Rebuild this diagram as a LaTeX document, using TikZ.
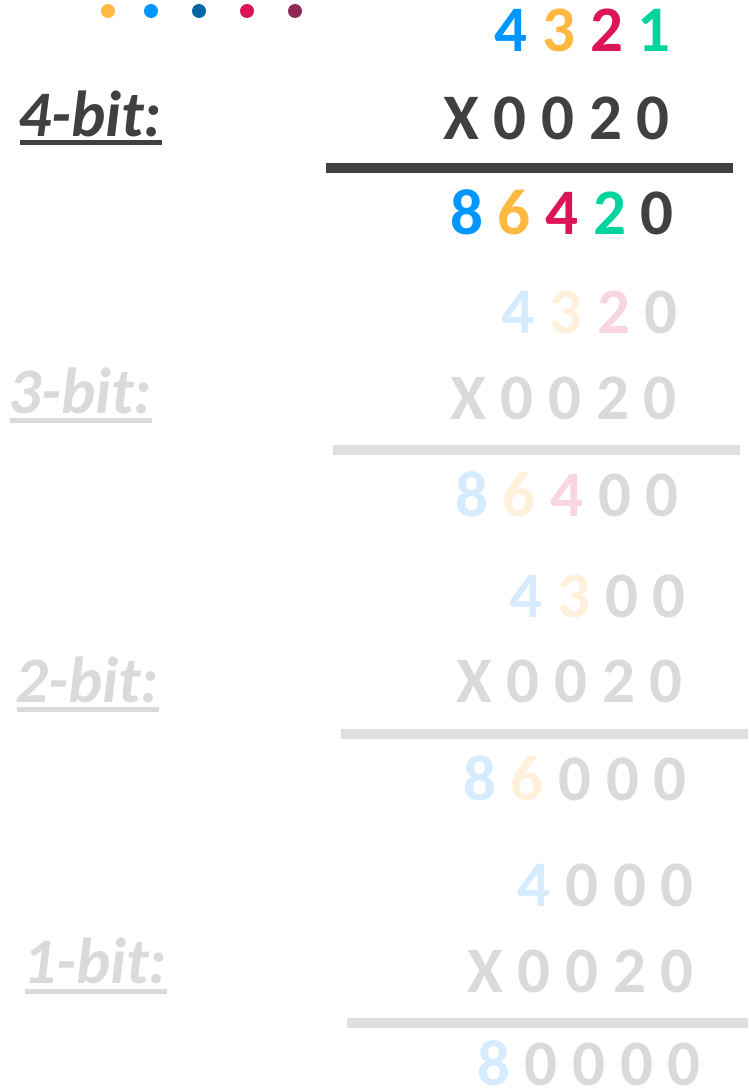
\documentclass[tikz,border=0pt]{standalone}
\usepackage{fontspec}
\setmainfont{Carlito}
\usetikzlibrary{positioning, calc}

% bright digit colours
\definecolor{dgray}{HTML}{404040}
\definecolor{cblue}{HTML}{0096FF}
\definecolor{corange}{HTML}{FFB940}
\definecolor{ccrimson}{HTML}{DC1458}
\definecolor{cgreen}{HTML}{02D49E}
\definecolor{cnavy}{HTML}{0067A6}
\definecolor{cmaroon}{HTML}{8E2A55}
% faded colours
\definecolor{fblue}{HTML}{D7EBFF}
\definecolor{forange}{HTML}{FFF1DC}
\definecolor{fpink}{HTML}{F8D6E1}
\definecolor{fgray}{HTML}{DADADA}
\definecolor{frule}{HTML}{DFDFDF}

\begin{document}
\begin{tikzpicture}[
    x=1pt, y=-1pt, % pixel-like units, y pointing down
    digits/.style={font=\fontsize{65}{78}\selectfont\bfseries, inner sep=0pt, anchor=base east}, % number rows
    bitlabel/.style={font=\fontsize{65}{78}\selectfont\bfseries\itshape, inner sep=0pt, anchor=base west}, % n-bit labels
    sumrule/.style={line width=10pt}, % line under the factors
    ul/.style={line width=5pt}, % underline of a label
    dot/.style={circle, inner sep=0pt, minimum size=14pt} % colour dots
]

    \useasboundingbox (0,0) rectangle (748,1091);

    % Colour dots
    \node[dot, fill=corange] (dot1) at (108,11) {};
    \node[dot, fill=cblue] (dot2) at (151,11) {};
    \node[dot, fill=cnavy] (dot3) at (199,11) {};
    \node[dot, fill=ccrimson] (dot4) at (247,11) {};
    \node[dot, fill=cmaroon] (dot5) at (295,11) {};

    % 4-bit
    \node[bitlabel, text=dgray] (lab4) at (18,137) {4-bit:};
    \draw[ul, dgray] ($(lab4.base west)+(2,6)$) -- ($(lab4.base east)+(0,6)$);
    \node[digits] (top4) at (671,52) {\textcolor{cblue}{4} \textcolor{corange}{3} \textcolor{ccrimson}{2} \textcolor{cgreen}{1}};
    \node[digits, text=dgray] (fac4) at (670,140) {X 0 0 2 0};
    \coordinate (r4a) at (326,168);
    \coordinate (r4b) at (733,168);
    \draw[sumrule, dgray] (r4a) -- (r4b);
    \node[digits] (res4) at (674,234) {\textcolor{cblue}{8} \textcolor{corange}{6} \textcolor{ccrimson}{4} \textcolor{cgreen}{2} \textcolor{dgray}{0}};

    % 3-bit
    \node[bitlabel, text=fgray] (lab3) at (8,413) {3-bit:};
    \draw[ul, fgray] ($(lab3.base west)+(2,7)$) -- ($(lab3.base east)+(0,7)$);
    \node[digits] (top3) at (678,333) {\textcolor{fblue}{4} \textcolor{forange}{3} \textcolor{fpink}{2} \textcolor{fgray}{0}};
    \node[digits, text=fgray] (fac3) at (677,419) {X 0 0 2 0};
    \coordinate (r3a) at (333,450);
    \coordinate (r3b) at (740,450);
    \draw[sumrule, frule] (r3a) -- (r3b);
    \node[digits] (res3) at (679,516) {\textcolor{fblue}{8} \textcolor{forange}{6} \textcolor{fpink}{4} \textcolor{fgray}{0 0}};

    % 2-bit
    \node[bitlabel, text=fgray] (lab2) at (15,702) {2-bit:};
    \draw[ul, fgray] ($(lab2.base west)+(2,7)$) -- ($(lab2.base east)+(0,7)$);
    \node[digits] (top2) at (686,617) {\textcolor{fblue}{4} \textcolor{forange}{3} \textcolor{fgray}{0 0}};
    \node[digits, text=fgray] (fac2) at (683,702) {X 0 0 2 0};
    \coordinate (r2a) at (341,734);
    \coordinate (r2b) at (748,734);
    \draw[sumrule, frule] (r2a) -- (r2b);
    \node[digits] (res2) at (687,800) {\textcolor{fblue}{8} \textcolor{forange}{6} \textcolor{fgray}{0 0 0}};

    % 1-bit
    \node[bitlabel, text=fgray] (lab1) at (23,983) {1-bit:};
    \draw[ul, fgray] ($(lab1.base west)+(2,8)$) -- ($(lab1.base east)+(0,8)$);
    \node[digits] (top1) at (694,906) {\textcolor{fblue}{4} \textcolor{fgray}{0 0 0}};
    \node[digits, text=fgray] (fac1) at (694,992) {X 0 0 2 0};
    \coordinate (r1a) at (347,1023);
    \coordinate (r1b) at (748,1023);
    \draw[sumrule, frule] (r1a) -- (r1b);
    \node[digits] (res1) at (701,1085) {\textcolor{fblue}{8} \textcolor{fgray}{0 0 0 0}};

\end{tikzpicture}
\end{document}
